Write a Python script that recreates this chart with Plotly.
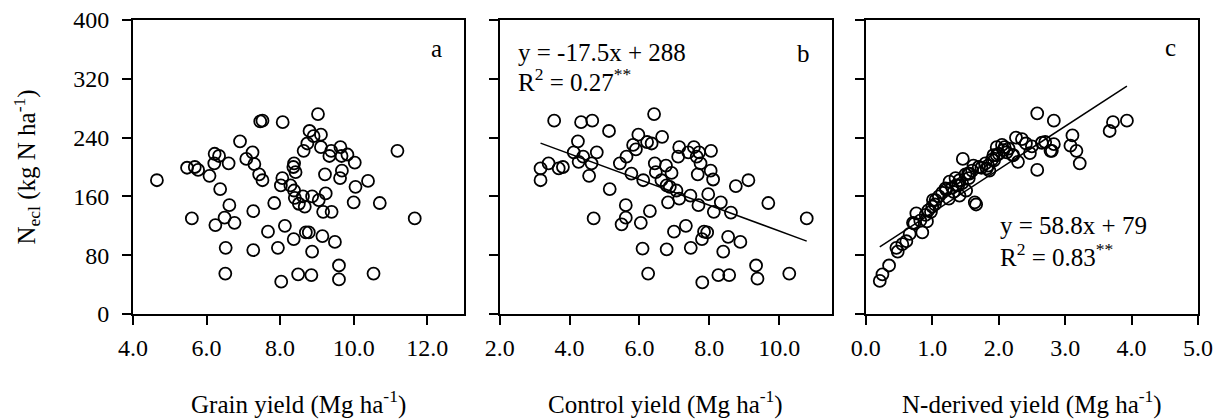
import plotly.graph_objects as go

# ---------------- data ----------------
grain_yield = [4.65, 5.47, 5.60, 5.68, 5.77, 6.08, 6.22, 6.21, 6.24, 6.34, 6.37, 6.60, 6.62, 6.49, 6.76,
               6.52, 6.51, 6.91, 7.08, 7.25, 7.30, 7.27, 7.27, 7.46, 7.52, 7.43, 7.52, 7.67, 7.84, 7.94,
               8.03, 8.07, 8.06, 8.02, 8.13, 8.28, 8.37, 8.38, 8.36, 8.42, 8.38, 8.40, 8.49, 8.51, 8.62,
               8.64, 8.67, 8.70, 8.74, 8.78, 8.80, 8.85, 8.87, 8.87, 8.91, 9.03, 9.11, 9.11, 9.05, 9.15,
               9.17, 9.22, 9.24, 9.34, 9.40, 9.39, 9.49, 9.60, 9.60, 9.63, 9.68, 9.64, 9.67, 9.83, 10.03,
               10.00, 10.05, 10.39, 10.54, 10.71, 11.19, 11.66]
necl_a = [182, 199, 130, 200, 196, 188, 218, 205, 121, 215, 170, 205, 148, 131, 124,
          90, 55, 235, 211, 220, 204, 140, 87, 262, 263, 190, 182, 112, 151, 90,
          44, 261, 185, 175, 120, 175, 102, 205, 200, 193, 168, 158, 54, 150, 160,
          222, 146, 111, 232, 111, 249, 53, 85, 160, 242, 272, 244, 227, 155, 106,
          139, 190, 164, 215, 139, 222, 98, 66, 47, 185, 195, 227, 215, 217, 206,
          152, 173, 181, 55, 151, 222, 130]

control_yield = [3.17, 3.17, 3.40, 3.69, 3.81, 3.56, 4.12, 4.24, 4.26, 4.33, 4.39, 4.56, 4.65, 4.63, 4.78,
                 4.69, 5.13, 5.15, 5.44, 5.49, 5.61, 5.61, 5.63, 5.77, 5.82, 5.90, 5.97, 6.04, 6.09, 6.11,
                 6.22, 6.25, 6.30, 6.35, 6.42, 6.44, 6.47, 6.65, 6.63, 6.76, 6.78, 6.78, 6.82, 6.87, 6.92,
                 6.99, 7.06, 7.14, 7.14, 7.11, 7.33, 7.40, 7.46, 7.47, 7.56, 7.64, 7.67, 7.69, 7.71, 7.75,
                 7.79, 7.80, 7.85, 7.94, 7.97, 8.04, 8.05, 8.11, 8.13, 8.26, 8.33, 8.40, 8.54, 8.57, 8.62,
                 8.76, 8.89, 9.12, 9.34, 9.38, 9.69, 10.29, 10.79]
necl_b = [182, 198, 205, 198, 200, 263, 220, 235, 207, 261, 214, 188, 263, 205, 220,
          130, 249, 170, 205, 122, 148, 131, 214, 191, 230, 224, 244, 124, 89, 182,
          234, 55, 140, 232, 272, 205, 193, 241, 182, 202, 175, 88, 152, 173, 192,
          112, 168, 227, 157, 214, 120, 220, 161, 90, 227, 214, 190, 148, 220, 205,
          102, 43, 112, 111, 163, 195, 222, 183, 139, 53, 152, 85, 105, 53, 138,
          174, 98, 182, 66, 48, 151, 55, 130]

n_derived_yield = [0.21, 0.25, 0.35, 0.46, 0.48, 0.61, 0.66, 0.71, 0.76, 0.85, 0.82, 0.94, 1.01, 1.00, 1.04,
                   1.21, 1.25, 1.26, 1.32, 1.41, 1.41, 1.46, 1.39, 1.54, 1.62, 1.64, 1.66, 1.74, 1.84, 1.86,
                   1.92, 1.97, 1.97, 2.09, 2.12, 2.22, 2.26, 2.29, 2.41, 2.47, 2.58, 2.58, 2.65, 2.70, 2.80,
                   2.83, 2.83, 3.08, 3.11, 3.17, 3.22, 3.67, 3.72, 3.93,
                   0.73, 0.92, 0.98, 1.20, 1.36, 1.51, 1.56, 1.82, 1.93, 2.07, 2.21, 2.78,
                   1.10, 1.15, 1.30, 1.35, 1.50, 1.60, 1.70, 1.80, 1.90, 2.00, 2.05, 2.15, 2.35, 2.50,
                   0.55, 0.90, 1.05, 1.45, 1.55]
necl_c = [45, 54, 66, 90, 85, 99, 109, 124, 137, 111, 127, 141, 155, 146, 149,
          169, 157, 180, 166, 161, 182, 211, 175, 191, 202, 152, 149, 199, 202, 195,
          216, 227, 216, 227, 220, 216, 240, 207, 232, 219, 273, 196, 233, 234, 222,
          263, 231, 229, 243, 222, 205, 249, 261, 263,
          123, 126, 139, 171, 175, 168, 191, 198, 209, 223, 216, 222,
          160, 165, 172, 185, 190, 195, 200, 205, 210, 218, 230, 225, 238, 228,
          95, 135, 155, 178, 185]

# regression equations printed on the chart
slope_b, intercept_b = -17.5, 288
slope_c, intercept_c = 58.8, 79

x_ticks_a = [4, 6, 8, 10, 12]
x_ticks_b = [2, 4, 6, 8, 10]
x_ticks_c = [0, 1, 2, 3, 4, 5]
y_ticks = [0, 80, 160, 240, 320, 400]

# ---------------- figure ----------------
FONT = "Liberation Serif, Times New Roman, serif"
marker = dict(symbol="circle-open", size=12, color="black", line=dict(width=1.8, color="black"))

fig = go.Figure()
fig.add_trace(go.Scatter(x=grain_yield, y=necl_a, mode="markers", marker=marker,
                         xaxis="x", yaxis="y", showlegend=False))
fig.add_trace(go.Scatter(x=control_yield, y=necl_b, mode="markers", marker=marker,
                         xaxis="x2", yaxis="y2", showlegend=False))
fig.add_trace(go.Scatter(x=n_derived_yield, y=necl_c, mode="markers", marker=marker,
                         xaxis="x3", yaxis="y3", showlegend=False))

bx = [min(control_yield), max(control_yield)]
fig.add_trace(go.Scatter(x=bx, y=[slope_b * v + intercept_b for v in bx], mode="lines",
                         line=dict(color="black", width=1.5), xaxis="x2", yaxis="y2", showlegend=False))
cx = [min(n_derived_yield), max(n_derived_yield)]
fig.add_trace(go.Scatter(x=cx, y=[slope_c * v + intercept_c for v in cx], mode="lines",
                         line=dict(color="black", width=1.5), xaxis="x3", yaxis="y3", showlegend=False))

axis_common = dict(showline=True, linecolor="black", linewidth=2, mirror=True, ticks="outside",
                   ticklen=9, tickwidth=1.6, tickcolor="black", showgrid=False, zeroline=False,
                   automargin=False,
                   tickfont=dict(family=FONT, size=24, color="black"))

dom_a = [0.0, 0.3108]
dom_b = [0.3443, 0.6559]
dom_c = [0.6881, 1.0]

fig.update_layout(
    width=1220, height=420,
    margin=dict(l=133, r=22, t=20, b=106, autoexpand=False),
    paper_bgcolor="white", plot_bgcolor="white",
    font=dict(family=FONT, size=24, color="black"),
    xaxis=dict(domain=dom_a, range=[4, 13], tickvals=x_ticks_a, tickformat=".1f",
               anchor="y", ticklabelstandoff=2, **axis_common),
    xaxis2=dict(domain=dom_b, range=[2, 11.5], tickvals=x_ticks_b, tickformat=".1f",
                anchor="y2", ticklabelstandoff=2, **axis_common),
    xaxis3=dict(domain=dom_c, range=[0, 5], tickvals=x_ticks_c, tickformat=".1f",
                anchor="y3", ticklabelstandoff=2, **axis_common),
    yaxis=dict(domain=[0, 1], range=[0, 400], tickvals=y_ticks, anchor="x",
               ticklabelstandoff=8, **axis_common),
    yaxis2=dict(domain=[0, 1], range=[0, 400], tickvals=y_ticks, anchor="x2",
                showticklabels=False, **axis_common),
    yaxis3=dict(domain=[0, 1], range=[0, 400], tickvals=y_ticks, anchor="x3",
                showticklabels=False, **axis_common),
)

ann_font = dict(family=FONT, size=25, color="black")
annotations = [
    # panel letters
    dict(text="a", x=12.26, y=361, xref="x", yref="y", xanchor="center", showarrow=False, font=ann_font),
    dict(text="b", x=10.71, y=354, xref="x2", yref="y2", xanchor="center", showarrow=False, font=ann_font),
    dict(text="c", x=4.58, y=362, xref="x3", yref="y3", xanchor="center", showarrow=False, font=ann_font),
    # equations
    dict(text="y = -17.5x + 288", x=2.46, y=356, xref="x2", yref="y2", xanchor="left",
         showarrow=False, font=ann_font),
    dict(text="R<sup>2</sup> = 0.27<sup>**</sup>", x=2.46, y=318, xref="x2", yref="y2", xanchor="left",
         showarrow=False, font=ann_font),
    dict(text="y = 58.8x + 79", x=1.99, y=121, xref="x3", yref="y3", xanchor="left",
         showarrow=False, font=ann_font),
    dict(text="R<sup>2</sup> = 0.83<sup>**</sup>", x=1.99, y=80, xref="x3", yref="y3", xanchor="left",
         showarrow=False, font=ann_font),
    # axis titles
    dict(text="Grain yield (Mg ha<sup>-1</sup>)", x=sum(dom_a) / 2, y=-0.30, xref="paper", yref="paper",
         xanchor="center", yanchor="middle", showarrow=False, font=ann_font),
    dict(text="Control yield (Mg ha<sup>-1</sup>)", x=sum(dom_b) / 2, y=-0.30, xref="paper", yref="paper",
         xanchor="center", yanchor="middle", showarrow=False, font=ann_font),
    dict(text="N-derived yield (Mg ha<sup>-1</sup>)", x=sum(dom_c) / 2, y=-0.30, xref="paper", yref="paper",
         xanchor="center", yanchor="middle", showarrow=False, font=ann_font),
    dict(text="N<sub>ecl</sub> (kg N ha<sup>-1</sup>)", x=-0.100, y=0.5, xref="paper", yref="paper",
         showarrow=False, font=ann_font, textangle=-90, xanchor="center", yanchor="middle"),
]
fig.update_layout(annotations=annotations)

# remove the default page margin so the 1220x420 figure fills the window exactly
fig.write_html("out.html", config={"displayModeBar": False},
               post_script="document.body.style.margin='0';")
